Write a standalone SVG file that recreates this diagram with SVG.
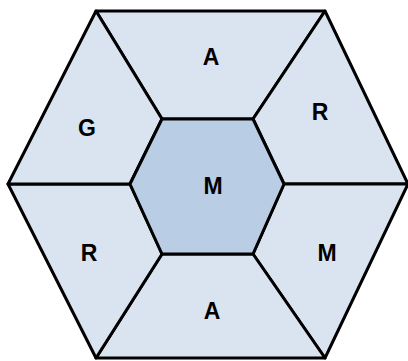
<svg xmlns="http://www.w3.org/2000/svg" width="408" height="361" viewBox="0 0 408 361">
<style>
.seg{fill:#dae3f0;stroke:#000;stroke-width:3;stroke-linejoin:round}
.core{fill:#b9cde5;stroke:#000;stroke-width:3;stroke-linejoin:round}
.lbl{font-family:"Liberation Sans",Arial,sans-serif;font-weight:bold;font-size:23px;fill:#000;text-anchor:middle}
</style>
<rect width="408" height="361" fill="#fff"/>
<g id="seg-top"><polygon class="seg" points="96,11 325,11 253,119 162,119"/><text class="lbl" x="211" y="65">A</text></g>
<g id="seg-upper-right"><polygon class="seg" points="325,11 408,184 284,184 253,119"/><text class="lbl" x="320" y="120">R</text></g>
<g id="seg-lower-right"><polygon class="seg" points="408,184 325,358 253,254 284,184"/><text class="lbl" x="327" y="261">M</text></g>
<g id="seg-bottom"><polygon class="seg" points="325,358 96,358 162,254 253,254"/><text class="lbl" x="212" y="319">A</text></g>
<g id="seg-lower-left"><polygon class="seg" points="96,358 8,184 130,184 162,254"/><text class="lbl" x="89" y="261">R</text></g>
<g id="seg-upper-left"><polygon class="seg" points="8,184 96,11 162,119 130,184"/><text class="lbl" x="87" y="136">G</text></g>
<g id="center"><polygon class="core" points="162,119 253,119 284,184 253,254 162,254 130,184"/><text class="lbl" x="213" y="194">M</text></g>
<g id="connectors"></g>
</svg>
